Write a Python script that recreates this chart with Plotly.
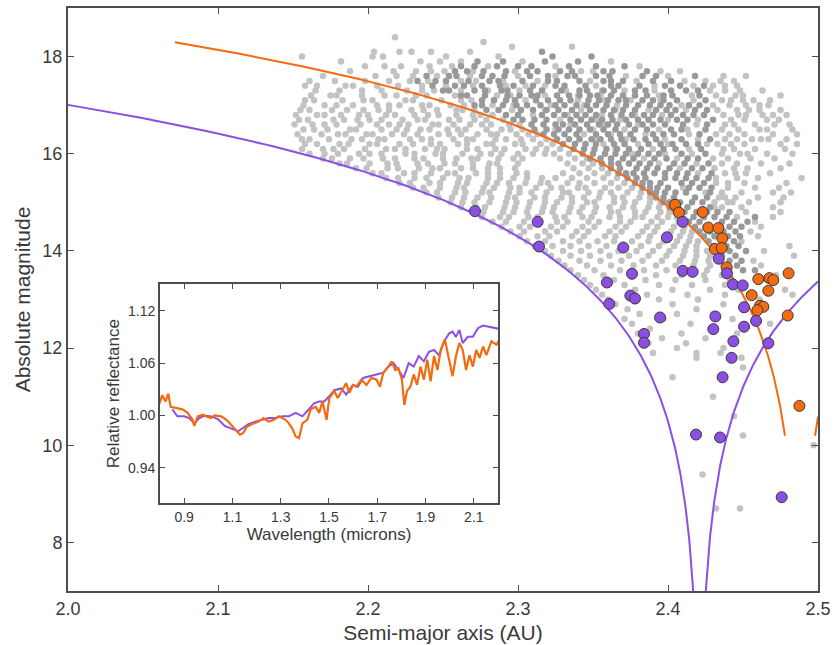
import numpy as np
import plotly.graph_objects as go

# ---------------------------------------------------------------------------
# Background asteroids (gray dots). One row per 0.1 mag of absolute magnitude;
# semi-major axes are given in thousandths of an AU above 2.000 AU.
# ---------------------------------------------------------------------------
light_rows_h = [18.4, 18.3, 18.2, 18.1, 18.0, 17.9, 17.8, 17.7, 17.6, 17.5, 17.4, 17.3, 17.2, 17.1, 17.0,
                16.9, 16.8, 16.7, 16.6, 16.5, 16.4, 16.3, 16.2, 16.1, 16.0,
                15.9, 15.8, 15.7, 15.6, 15.5, 15.4, 15.3, 15.2, 15.1, 15.0,
                14.9, 14.8, 14.7, 14.6, 14.5, 14.4, 14.3, 14.2, 14.1, 14.0,
                13.9, 13.8, 13.7, 13.6, 13.5, 13.4, 13.3, 13.2, 13.1, 13.0,
                12.9, 12.8, 12.7, 12.6, 12.5, 12.4, 12.3, 12.2, 12.1, 12.0,
                11.9, 11.8, 11.6, 11.4, 11.0, 10.6, 10.2, 10.0, 9.4, 8.7]
light_rows_a = [
    [218], [277], [296, 336], [204, 221, 229, 242, 268], [156, 203, 210, 252, 287],
    [182, 235, 248, 262, 303, 362],
    [198, 211, 222, 241, 256, 280, 325, 381],
    [188, 217, 232, 242, 251, 270, 298, 342, 350, 395, 408],
    [170, 205, 219, 230, 246, 268, 300, 325, 372, 400, 437, 452],
    [161, 178, 198, 214, 228, 240, 262, 272, 290, 313, 348, 379, 411, 425, 435, 444],
    [158, 166, 185, 190, 206, 220, 236, 252, 270, 292, 305, 318, 352, 391, 417, 430, 438, 446],
    [165, 181, 196, 209, 226, 236, 244, 262, 280, 301, 316, 332, 356, 371, 391, 428, 438, 448, 463],
    [162, 175, 179, 196, 211, 219, 232, 239, 258, 286, 295, 318, 340, 355, 394, 416, 432, 445, 450, 475],
    [158, 164, 183, 197, 203, 225, 230, 249, 262, 269, 284, 305, 340, 358, 375, 395, 417, 436, 442, 450, 457, 468],
    [157, 171, 179, 190, 206, 214, 221, 236, 241, 255, 264, 283, 297, 322, 344, 366, 409, 430, 441, 452, 461, 467],
    [155, 161, 176, 186, 197, 207, 214, 229, 237, 246, 259, 263, 271, 296, 318, 342, 365, 387, 412, 433, 446, 454, 461, 475],
    [152, 166, 171, 182, 194, 200, 212, 218, 231, 240, 247, 259, 270, 275, 283, 310, 333, 356, 378, 396, 437, 447, 452, 463, 470, 479],
    [154, 160, 177, 184, 193, 201, 209, 223, 233, 238, 254, 261, 271, 279, 290, 328, 352, 368, 400, 420, 442, 451, 466, 474],
    [151, 163, 171, 179, 195, 206, 214, 221, 227, 243, 247, 257, 268, 276, 282, 294, 301, 335, 358, 380, 419, 438, 444, 458, 471, 481],
    [157, 164, 173, 188, 192, 209, 219, 226, 235, 241, 253, 260, 265, 279, 289, 295, 303, 325, 350, 371, 394, 413, 436, 447, 461, 466, 483],
    [153, 169, 180, 185, 199, 203, 216, 224, 233, 247, 254, 262, 273, 282, 286, 299, 307, 313, 344, 362, 385, 414, 432, 441, 451, 470, 486],
    [156, 161, 174, 189, 196, 207, 211, 228, 236, 242, 257, 266, 270, 285, 292, 302, 310, 319, 351, 372, 398, 420, 438, 446, 456, 462, 467, 479],
    [158, 166, 181, 187, 201, 206, 221, 230, 242, 248, 260, 266, 279, 283, 298, 303, 315, 323, 357, 380, 400, 426, 433, 442, 451, 475, 486],
    [156, 170, 177, 184, 198, 212, 218, 225, 238, 246, 251, 266, 273, 285, 291, 305, 312, 319, 328, 365, 390, 414, 437, 444, 458, 478],
    [161, 171, 180, 194, 201, 209, 225, 231, 245, 250, 263, 275, 282, 289, 300, 310, 318, 324, 334, 376, 398, 416, 436, 448, 453, 466, 483],
    [170, 176, 188, 197, 210, 218, 231, 237, 250, 259, 269, 273, 287, 297, 303, 328, 338, 346, 384, 406, 430, 440, 455, 471],
    [181, 186, 201, 213, 219, 233, 240, 251, 258, 270, 281, 286, 300, 333, 343, 350, 394, 419, 436, 446, 462, 481],
    [192, 199, 213, 220, 234, 243, 248, 262, 270, 280, 288, 298, 337, 347, 356, 408, 431, 444, 453, 475],
    [203, 209, 224, 231, 242, 253, 258, 272, 280, 288, 299, 306, 330, 341, 351, 360, 420, 438, 445, 452, 468],
    [212, 220, 231, 239, 250, 261, 267, 280, 288, 297, 306, 316, 325, 336, 346, 357, 366, 432, 446, 460, 489],
    [221, 228, 241, 248, 260, 266, 279, 286, 294, 305, 315, 320, 333, 341, 351, 362, 371, 432, 440, 451, 479],
    [230, 237, 248, 259, 264, 277, 284, 295, 301, 312, 322, 329, 340, 345, 358, 367, 376, 410, 440, 458, 474],
    [239, 246, 258, 265, 276, 281, 294, 301, 309, 319, 330, 334, 347, 355, 362, 373, 382, 425, 436, 449, 470, 482],
    [247, 256, 264, 273, 282, 293, 298, 311, 318, 329, 336, 344, 354, 364, 370, 381, 388, 434, 438, 445, 460, 477],
    [255, 263, 271, 281, 292, 299, 308, 318, 326, 336, 346, 351, 364, 371, 378, 388, 395, 431, 440, 443, 454, 475],
    [262, 272, 278, 291, 298, 307, 317, 324, 335, 343, 352, 361, 370, 377, 387, 394, 431, 436, 449, 470],
    [270, 277, 290, 297, 306, 316, 323, 334, 341, 351, 362, 367, 378, 385, 395, 401, 452, 475],
    [276, 288, 294, 307, 313, 325, 331, 343, 349, 361, 368, 378, 383, 393, 400, 406, 446, 470],
    [283, 292, 304, 313, 326, 333, 347, 354, 368, 375, 389, 396, 407, 458],
    [289, 301, 308, 322, 330, 343, 351, 365, 372, 386, 393, 404, 411, 462],
    [295, 304, 318, 326, 339, 347, 361, 369, 383, 391, 402, 410, 416, 455],
    [301, 313, 321, 336, 344, 358, 365, 380, 388, 400, 408, 415, 460],
    [306, 318, 330, 341, 353, 364, 376, 387, 397, 406, 414, 420, 449],
    [311, 323, 335, 347, 359, 371, 382, 394, 404, 412, 419, 481],
    [318, 330, 342, 355, 367, 379, 390, 401, 411, 419, 426, 464],
    [322, 335, 348, 361, 374, 387, 399, 410, 419, 428, 484],
    [327, 341, 355, 369, 383, 396, 408, 418, 427, 434, 457],
    [331, 346, 362, 377, 392, 405, 417, 428, 437, 462],
    [335, 351, 368, 384, 399, 413, 426, 438],
    [340, 357, 375, 392, 409, 424, 436, 472],
    [344, 364, 385, 405, 425, 441, 466],
    [348, 371, 394, 416, 438, 451],
    [352, 378, 403, 428, 447, 478],
    [356, 386, 413, 438, 483],
    [360, 394, 420, 461],
    [365, 403, 437], [373, 419, 452], [381, 406, 430], [371, 397, 443], [376, 415, 468],
    [388, 431], [380, 409, 446], [396, 425], [387, 412], [406, 437],
    [390, 419, 435], [419, 449], [450], [403], [430], [444], [450], [497], [423], [432, 448],
]

dark_rows_h = [18.1, 18.0, 17.9, 17.8, 17.7, 17.6, 17.5, 17.4, 17.3, 17.2, 17.1, 17.0,
               16.9, 16.8, 16.7, 16.6, 16.5, 16.4, 16.3, 16.2, 16.1, 16.0,
               15.9, 15.8, 15.7, 15.6, 15.5, 15.4, 15.3, 15.2, 15.1, 15.0,
               14.9, 14.8, 14.7, 14.6, 14.5, 14.4, 14.3, 14.2, 14.1, 14.0,
               13.9, 13.8, 13.7, 13.6]
dark_rows_a = [
    [316], [323, 349], [273, 290, 318, 340],
    [262, 271, 286, 300, 309, 334, 352, 371],
    [258, 266, 277, 292, 306, 313, 328, 336, 357, 363, 386],
    [239, 254, 259, 276, 283, 291, 308, 320, 333, 338, 352, 361, 383, 392, 418],
    [233, 245, 252, 267, 281, 287, 303, 320, 326, 341, 357, 362, 370, 390, 402],
    [243, 258, 264, 276, 288, 297, 310, 325, 331, 345, 362, 367, 381, 398, 408, 424],
    [250, 254, 271, 278, 289, 293, 308, 316, 329, 341, 346, 357, 364, 378, 385, 402, 412, 420],
    [262, 266, 278, 293, 301, 309, 313, 326, 334, 341, 348, 353, 362, 370, 378, 386, 397, 403, 421],
    [276, 284, 292, 298, 312, 320, 328, 335, 347, 354, 360, 367, 372, 383, 390, 397, 406, 425],
    [271, 276, 290, 299, 306, 315, 325, 331, 339, 346, 352, 359, 372, 380, 388, 395, 401, 414, 421],
    [279, 287, 302, 310, 319, 327, 336, 348, 357, 364, 370, 378, 392, 399, 405, 418, 426],
    [292, 300, 316, 324, 331, 339, 345, 352, 362, 369, 376, 384, 390, 402, 410, 417, 424],
    [297, 303, 311, 319, 335, 342, 349, 356, 363, 372, 380, 387, 395, 406, 413, 430],
    [309, 317, 325, 330, 338, 346, 354, 360, 366, 374, 383, 390, 398, 410, 426],
    [311, 319, 327, 334, 341, 348, 357, 365, 378, 386, 402, 409, 425],
    [317, 324, 331, 339, 352, 360, 368, 375, 390, 397, 404, 421],
    [326, 334, 341, 349, 355, 362, 369, 377, 385, 392, 409, 428],
    [330, 338, 345, 352, 364, 371, 387, 395, 403, 412, 420],
    [337, 344, 351, 359, 366, 374, 382, 397, 405, 422],
    [343, 350, 358, 365, 372, 380, 387, 394, 409, 425],
    [348, 355, 362, 370, 377, 391, 399, 413, 420],
    [356, 362, 367, 374, 381, 388, 404, 411, 427],
    [362, 368, 379, 386, 393, 401, 416, 423],
    [367, 372, 377, 384, 391, 398, 406, 413, 429],
    [373, 379, 385, 398, 405, 412, 419, 427],
    [378, 383, 388, 395, 409, 416, 424],
    [383, 388, 393, 400, 414, 421, 429],
    [388, 392, 398, 405, 412, 428],
    [392, 397, 404, 418, 426],
    [397, 401, 408, 416, 423],
    [401, 406, 413, 428],
    [405, 411, 419, 426, 433, 441],
    [409, 417, 424, 431, 439, 458],
    [414, 421, 436, 444, 453],
    [418, 425, 433, 441, 449],
    [421, 428, 437, 445],
    [424, 431, 440, 448],
    [427, 436, 444],
    [430, 439, 447],
    [433, 441, 452],
    [436, 445], [441, 449], [446], [450, 458],
]

# Family members (purple) and the second group (orange): (a [AU], H [mag])
purple_a = [2.2713, 2.3131, 2.3140, 2.3702, 2.3993, 2.4098, 2.3593, 2.3760, 2.4098, 2.4164,
            2.4338, 2.4393, 2.4433, 2.4498, 2.3609, 2.3749, 2.3780, 2.3947, 2.4316, 2.4507,
            2.4587, 2.4302, 2.4507, 2.3840, 2.3840, 2.4436, 2.4669, 2.4424, 2.4364, 2.4187,
            2.4347, 2.4758]
purple_h = [14.82, 14.60, 14.09, 14.07, 14.28, 14.60, 13.35, 13.53, 13.59, 13.57,
            13.84, 13.54, 13.31, 13.29, 12.91, 13.08, 13.02, 12.63, 12.65, 12.84,
            12.56, 12.39, 12.44, 12.29, 12.11, 12.14, 12.10, 11.80, 11.40, 10.22,
            10.16, 8.93]

orange_a = [2.4047, 2.4073, 2.4231, 2.4269, 2.4336, 2.4362, 2.4313, 2.4358, 2.4391, 2.4602,
            2.4676, 2.4702, 2.4804, 2.4669, 2.4558, 2.4613, 2.4636, 2.4596, 2.4798, 2.4876]
orange_h = [14.95, 14.79, 14.80, 14.48, 14.47, 14.26, 14.04, 14.06, 13.66, 13.42,
            13.44, 13.40, 13.54, 13.18, 13.09, 12.87, 12.85, 12.78, 12.67, 10.81]

# V-shape envelopes H = 5 log10(|a - a_c| / C)
purple_center, purple_c = 2.421, 1.672e-4
orange_center, orange_c = 2.488, 9.14e-5

# Inset: reflectance spectra
spec_orange_wl = [0.795, 0.809, 0.823, 0.834, 0.844, 0.865, 0.893, 0.914, 0.935, 0.942,
                  0.956, 0.977, 0.991, 1.012, 1.026, 1.054, 1.075, 1.089, 1.110, 1.131,
                  1.145, 1.159, 1.180, 1.208, 1.229, 1.250, 1.271, 1.292, 1.320, 1.334,
                  1.348, 1.362, 1.376, 1.390, 1.410, 1.424, 1.445, 1.459, 1.473, 1.490,
                  1.501, 1.522, 1.536, 1.557, 1.571, 1.585, 1.599, 1.613, 1.634, 1.655,
                  1.676, 1.697, 1.711, 1.725, 1.746, 1.760, 1.774, 1.788, 1.802, 1.812,
                  1.823, 1.837, 1.851, 1.865, 1.879, 1.893, 1.907, 1.921, 1.935, 1.949,
                  1.963, 1.980, 1.991, 2.012, 2.026, 2.040, 2.054, 2.068, 2.082, 2.096,
                  2.110, 2.124, 2.138, 2.152, 2.173, 2.194, 2.208]
spec_orange_r = [1.012, 1.023, 1.016, 1.025, 1.010, 1.009, 1.007, 1.003, 0.995, 0.988,
                 0.999, 1.001, 0.999, 0.997, 1.000, 0.999, 0.995, 0.991, 0.985, 0.978,
                 0.980, 0.987, 0.990, 0.993, 0.997, 0.993, 0.995, 0.999, 0.995, 0.991,
                 0.985, 0.976, 0.974, 0.991, 0.995, 1.007, 1.010, 1.003, 1.016, 0.995,
                 1.020, 1.028, 1.020, 1.031, 1.037, 1.026, 1.035, 1.033, 1.041, 1.035,
                 1.043, 1.041, 1.033, 1.049, 1.056, 1.062, 1.052, 1.054, 1.041, 1.012,
                 1.028, 1.033, 1.047, 1.035, 1.056, 1.041, 1.064, 1.039, 1.068, 1.052,
                 1.075, 1.087, 1.071, 1.045, 1.068, 1.083, 1.075, 1.052, 1.069, 1.056,
                 1.075, 1.066, 1.079, 1.069, 1.085, 1.081, 1.088]
spec_purple_wl = [0.851, 0.872, 0.900, 0.921, 0.942, 0.963, 0.984, 1.012, 1.040, 1.068,
                  1.096, 1.124, 1.145, 1.166, 1.194, 1.222, 1.250, 1.278, 1.306, 1.334,
                  1.362, 1.390, 1.417, 1.438, 1.459, 1.480, 1.501, 1.522, 1.550, 1.571,
                  1.599, 1.620, 1.641, 1.669, 1.697, 1.725, 1.746, 1.767, 1.788, 1.809,
                  1.830, 1.851, 1.872, 1.893, 1.914, 1.935, 1.956, 1.977, 1.998, 2.012,
                  2.026, 2.040, 2.054, 2.075, 2.096, 2.117, 2.138, 2.159, 2.180, 2.208]
spec_purple_r = [1.007, 0.999, 0.999, 0.997, 0.991, 0.997, 1.000, 0.999, 0.996, 0.988,
                 0.985, 0.982, 0.986, 0.990, 0.993, 0.995, 0.997, 0.997, 0.999, 0.999,
                 1.003, 0.999, 1.007, 1.014, 1.016, 1.016, 1.022, 1.029, 1.031, 1.024,
                 1.035, 1.033, 1.043, 1.045, 1.047, 1.049, 1.056, 1.060, 1.052, 1.043,
                 1.060, 1.056, 1.068, 1.062, 1.073, 1.075, 1.069, 1.085, 1.094, 1.096,
                 1.090, 1.098, 1.083, 1.090, 1.090, 1.100, 1.103, 1.102, 1.101, 1.099]

main_xticks = [2.0, 2.1, 2.2, 2.3, 2.4, 2.5]
main_yticks = [8, 10, 12, 14, 16, 18]
inset_xticks = [0.9, 1.1, 1.3, 1.5, 1.7, 1.9, 2.1]
inset_yticks = [0.94, 1.00, 1.06, 1.12]

PURPLE = "#8b4fe3"
ORANGE = "#f36a10"
LIGHT_GRAY = "#c3c3c3"
DARK_GRAY = "#999999"
FRAME = "#4d4d4d"
TEXT = "#3a3a3a"
FONT = "Liberation Sans, Arial, sans-serif"


def flatten_rows(rows_h, rows_a):
    xs, ys = [], []
    for h, row in zip(rows_h, rows_a):
        for v in row:
            xs.append(2.0 + v / 1000.0)
            ys.append(h)
    return xs, ys


def v_branch(center, c, d_lo, d_hi, side):
    d = np.geomspace(d_lo, d_hi, 500)
    a = center + side * d
    return a, 5 * np.log10(d / c)


light_x, light_y = flatten_rows(light_rows_h, light_rows_a)
dark_x, dark_y = flatten_rows(dark_rows_h, dark_rows_a)

fig = go.Figure()

fig.add_trace(go.Scatter(x=light_x, y=light_y, mode="markers",
                         marker=dict(size=6.5, color=LIGHT_GRAY, line=dict(width=0)),
                         hoverinfo="skip"))
fig.add_trace(go.Scatter(x=dark_x, y=dark_y, mode="markers",
                         marker=dict(size=6.5, color=DARK_GRAY, line=dict(width=0)),
                         hoverinfo="skip"))

# purple envelope (both branches, down to the bottom of the frame)
d_tip = purple_c * 10 ** (7.0 / 5)
for side, d_hi in ((-1, purple_center - 2.0), (1, 2.5 - purple_center)):
    ax, hy = v_branch(purple_center, purple_c, d_tip, d_hi, side)
    fig.add_trace(go.Scatter(x=ax, y=hy, mode="lines",
                             line=dict(color=PURPLE, width=2), hoverinfo="skip"))

# orange envelope
for side, d_lo, d_hi in ((-1, 0.010, orange_center - 2.0713), (1, 0.010, 2.5 - orange_center)):
    ax, hy = v_branch(orange_center, orange_c, d_lo, d_hi, side)
    fig.add_trace(go.Scatter(x=ax, y=hy, mode="lines",
                             line=dict(color=ORANGE, width=2), hoverinfo="skip"))

fig.add_trace(go.Scatter(x=orange_a, y=orange_h, mode="markers",
                         marker=dict(size=11, color=ORANGE, line=dict(width=1, color="#3a3a3a"))))
fig.add_trace(go.Scatter(x=purple_a, y=purple_h, mode="markers",
                         marker=dict(size=11, color=PURPLE, line=dict(width=1, color="#3a3a3a"))))

# inset spectra
fig.add_trace(go.Scatter(x=spec_purple_wl, y=spec_purple_r, mode="lines",
                         line=dict(color=PURPLE, width=2), xaxis="x2", yaxis="y2"))
fig.add_trace(go.Scatter(x=spec_orange_wl, y=spec_orange_r, mode="lines",
                         line=dict(color=ORANGE, width=2.2), xaxis="x2", yaxis="y2"))

axis_common = dict(showgrid=False, zeroline=False, showline=True, mirror="ticks",
                   linecolor=FRAME, ticks="inside", tickcolor=FRAME, tickwidth=1.2,
                   automargin=False)

fig.update_layout(
    width=837, height=645,
    margin=dict(l=68, r=19, t=8, b=54),
    paper_bgcolor="white", plot_bgcolor="white",
    showlegend=False,
    font=dict(family=FONT, color=TEXT),
    xaxis=dict(axis_common, range=[2.0, 2.5], linewidth=2, ticklen=6,
               tickvals=main_xticks, ticktext=[f"{v:.1f}" for v in main_xticks],
               tickfont=dict(size=18, color=TEXT),
               title=dict(text="Semi-major axis (AU)", font=dict(size=21, color=TEXT), standoff=8)),
    yaxis=dict(axis_common, range=[7, 19], linewidth=2, ticklen=6,
               tickvals=main_yticks, ticktext=[str(v) for v in main_yticks],
               tickfont=dict(size=18, color=TEXT),
               title=dict(text="Absolute magnitude", font=dict(size=21, color=TEXT), standoff=6)),
    xaxis2=dict(axis_common, domain=[0.1227, 0.5733], anchor="y2", range=[0.8, 2.2],
                linewidth=2, ticklen=5,
                tickvals=inset_xticks, ticktext=[f"{v:.1f}" for v in inset_xticks],
                tickfont=dict(size=14, color=TEXT),
                title=dict(text="Wavelength (microns)", font=dict(size=17, color=TEXT), standoff=2)),
    yaxis2=dict(axis_common, domain=[0.1512, 0.5258], anchor="x2", range=[0.90, 1.15],
                linewidth=2, ticklen=5,
                tickvals=inset_yticks, ticktext=[f"{v:.2f}" for v in inset_yticks],
                tickfont=dict(size=14, color=TEXT),
                title=dict(text="Relative reflectance", font=dict(size=17, color=TEXT), standoff=4)),
)

fig.write_html("out.html")
